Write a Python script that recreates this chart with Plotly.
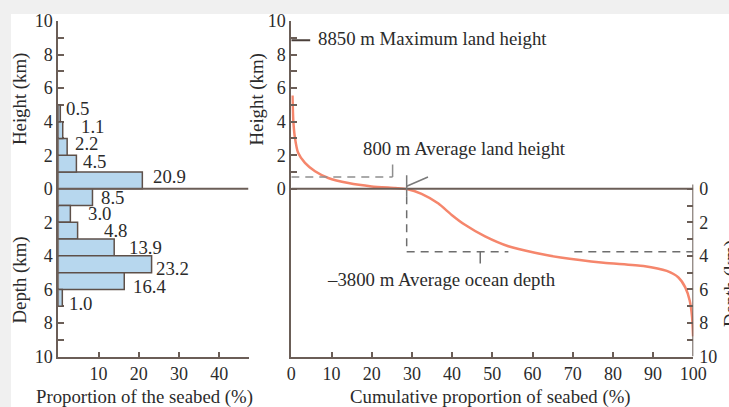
import plotly.graph_objects as go

W, H = 729, 407

# ---- data ----
land_band_start_km = [0, 1, 2, 3, 4]
land_share_pct = [20.9, 4.5, 2.2, 1.1, 0.5]
ocean_band_start_km = [0, 1, 2, 3, 4, 5, 6]
ocean_share_pct = [8.5, 3.0, 4.8, 13.9, 23.2, 16.4, 1.0]

cum_pct = [0.3, 0.5, 0.9, 1.7, 3.4, 5.9, 9.2, 14.2, 20.0, 25.8, 28.7, 32.4, 36.6,
           39.9, 43.2, 48.2, 54.0, 60.6, 67.0, 77.7, 87.6, 93.4, 96.3, 98.0, 99.1,
           99.7, 99.95]
elev_km = [5.56, 4.05, 3.05, 2.14, 1.54, 1.04, 0.64, 0.34, 0.14, 0.04, -0.02, -0.3,
           -0.88, -1.56, -2.15, -2.84, -3.43, -3.82, -4.1, -4.41, -4.6, -4.9, -5.29,
           -5.88, -6.66, -7.65, -8.8]

max_land_km = 8.85
avg_land_km = 0.7
avg_ocean_km = -3.75
sea_level_pct = 28.7

left_x_ticks = [10, 20, 30, 40]
right_x_ticks = [0, 10, 20, 30, 40, 50, 60, 70, 80, 90, 100]
km_ticks = list(range(-10, 11))

# label nudges (px) for the bar value labels, as staggered in the original
land_label_dx = [8.5, 4.5, 6, 16, 4]
land_label_dy = [3.4, 1.7, 3.6, 3.2, 5]
ocean_label_dx = [7, 15.7, 24, 13, 2.6, 6.7, 5]
ocean_label_dy = [0, 0.6, 0, 0, -4, -5.4, -5.6]

AXC = "#6b5e57"
TXT = "#2b2b2b"
FONT = "Liberation Serif"
FS = 18
FA = 18.8


def px_x(p):
    return p / W


def px_y(p):
    return 1 - p / H


fig = go.Figure()

bar_style = dict(color="#b7d7ee", line=dict(color="#5e5049", width=1.5))
land_y = [s + 0.5 for s in land_band_start_km]
ocean_y = [-(s + 0.5) for s in ocean_band_start_km]
fig.add_trace(go.Bar(
    x=land_share_pct, y=land_y, orientation="h", width=1,
    marker=bar_style, xaxis="x", yaxis="y", showlegend=False, hoverinfo="skip"))
fig.add_trace(go.Bar(
    x=ocean_share_pct, y=ocean_y, orientation="h", width=1,
    marker=bar_style, xaxis="x", yaxis="y", showlegend=False, hoverinfo="skip"))

fig.add_trace(go.Scatter(
    x=cum_pct, y=elev_km, mode="lines",
    line=dict(color="#f5866c", width=2.5, shape="spline", smoothing=0.6),
    xaxis="x2", yaxis="y2", showlegend=False, hoverinfo="skip"))
# invisible carrier so the right-hand depth axis is drawn
fig.add_trace(go.Scatter(
    x=cum_pct, y=elev_km, mode="lines", line=dict(color="rgba(0,0,0,0)", width=0),
    xaxis="x2", yaxis="y3", showlegend=False, hoverinfo="skip"))


def km_label(v):
    return str(abs(v)) if v % 2 == 0 else ""


axis_common = dict(showline=True, linecolor=AXC, linewidth=2, showgrid=False, zeroline=False,
                   ticks="inside", tickcolor=AXC, tickwidth=2,
                   tickfont=dict(family=FONT, size=FS, color=TXT), automargin=False)

ydom = [px_y(356.5), px_y(21)]

fig.update_layout(
    width=W, height=H,
    margin=dict(l=0, r=0, t=0, b=0),
    paper_bgcolor="#f0f0f0", plot_bgcolor="white",
    barmode="overlay",
    xaxis=dict(domain=[px_x(58.3), px_x(248.5)], range=[0, 47.3], anchor="y",
               tickvals=left_x_ticks, ticklen=5, **axis_common),
    yaxis=dict(domain=ydom, range=[-10, 10], anchor="x", tickvals=km_ticks,
               ticktext=[km_label(v) for v in km_ticks], ticklen=6, layer="below traces",
               **axis_common),
    xaxis2=dict(domain=[px_x(291.3), px_x(693.3)], range=[0, 100], anchor="y2",
                tickvals=right_x_ticks, ticklen=5, **axis_common),
    yaxis2=dict(domain=ydom, range=[-10, 10], anchor="x2",
                tickvals=[v for v in km_ticks if v >= 0],
                ticktext=[km_label(v) for v in km_ticks if v >= 0], ticklen=6, **axis_common),
    yaxis3=dict(overlaying="y2", anchor="x2", side="right", range=[-10, 10],
                tickvals=[v for v in km_ticks if v <= 0],
                ticktext=[km_label(v) for v in km_ticks if v <= 0], ticklen=6,
                ticklabelstandoff=5,
                **{**axis_common, "showline": False}),
)

shapes = [
    dict(type="rect", xref="paper", yref="paper", x0=px_x(11), x1=1.01, y0=-0.01, y1=px_y(14),
         fillcolor="white", line=dict(width=0), layer="below"),
    dict(type="line", xref="x", yref="y", x0=0, x1=47.3, y0=0, y1=0, line=dict(color=AXC, width=2)),
    dict(type="line", xref="x2", yref="y2", x0=0, x1=100, y0=0, y1=0, line=dict(color=AXC, width=2)),
    dict(type="line", xref="x2", yref="y2", x0=100, x1=100, y0=0.25, y1=-10, line=dict(color=AXC, width=2)),
    dict(type="line", xref="x2", yref="y2", x0=0, x1=4.7, y0=max_land_km, y1=max_land_km,
         line=dict(color="#4a3f3a", width=2)),
    dict(type="line", xref="x2", yref="y2", x0=0, x1=25.2, y0=avg_land_km, y1=avg_land_km,
         line=dict(color="#8e8e8e", width=1.5, dash="8px,6px")),
    dict(type="line", xref="x2", yref="y2", x0=25.2, x1=25.2, y0=avg_land_km, y1=avg_land_km + 0.75,
         line=dict(color="#8e8e8e", width=1.5)),
    dict(type="line", xref="x2", yref="y2", x0=sea_level_pct, x1=sea_level_pct, y0=0.8, y1=-0.45,
         line=dict(color="#7a7a7a", width=1.5)),
    dict(type="line", xref="x2", yref="y2", x0=sea_level_pct, x1=34, y0=0.15, y1=0.7,
         line=dict(color="#7a7a7a", width=1.5)),
    dict(type="line", xref="x2", yref="y2", x0=sea_level_pct, x1=sea_level_pct, y0=-0.45, y1=avg_ocean_km,
         line=dict(color="#6e6e6e", width=1.5, dash="8px,6px")),
    dict(type="line", xref="x2", yref="y2", x0=sea_level_pct, x1=54, y0=avg_ocean_km, y1=avg_ocean_km,
         line=dict(color="#6e6e6e", width=1.5, dash="8px,6px")),
    dict(type="line", xref="x2", yref="y2", x0=70.4, x1=100, y0=avg_ocean_km, y1=avg_ocean_km,
         line=dict(color="#6e6e6e", width=1.5, dash="8px,6px")),
    dict(type="line", xref="x2", yref="y2", x0=47, x1=47, y0=avg_ocean_km, y1=avg_ocean_km - 0.7,
         line=dict(color="#6e6e6e", width=1.5)),
]
fig.update_layout(shapes=shapes)

tf = dict(family=FONT, size=FA, color=TXT)
ann = []
for v, yy, dx, dy in zip(land_share_pct + ocean_share_pct, land_y + ocean_y,
                         land_label_dx + ocean_label_dx, land_label_dy + ocean_label_dy):
    ann.append(dict(xref="x", yref="y", x=v, y=yy, text=f"{v:.1f}", xanchor="left",
                    yanchor="middle", xshift=dx, yshift=dy, showarrow=False, font=tf))
ann += [
    dict(xref="x2", yref="y2", x=6.2, y=8.95, text="8850 m Maximum land height",
         xanchor="left", yanchor="middle", showarrow=False, font=tf),
    dict(xref="x2", yref="y2", x=43, y=2.4, text="800 m Average land height",
         xanchor="center", yanchor="middle", showarrow=False, font=tf),
    dict(xref="x2", yref="y2", x=37.3, y=-5.4, text="\u20133800 m Average ocean depth",
         xanchor="center", yanchor="middle", showarrow=False, font=tf),
    dict(xref="paper", yref="paper", x=px_x(19.5), y=px_y(99.5), text="Height (km)", textangle=-90,
         xanchor="center", yanchor="middle", showarrow=False, font=tf),
    dict(xref="paper", yref="paper", x=px_x(19.5), y=px_y(280), text="Depth (km)", textangle=-90,
         xanchor="center", yanchor="middle", showarrow=False, font=tf),
    dict(xref="paper", yref="paper", x=px_x(256), y=px_y(99.5), text="Height (km)", textangle=-90,
         xanchor="center", yanchor="middle", showarrow=False, font=tf),
    dict(xref="paper", yref="paper", x=px_x(731), y=px_y(283), text="Depth (km)", textangle=-90,
         xanchor="center", yanchor="middle", showarrow=False, font=tf),
    dict(xref="paper", yref="paper", x=px_x(144), y=px_y(397), text="Proportion of the seabed (%)",
         xanchor="center", yanchor="middle", showarrow=False, font=tf),
    dict(xref="paper", yref="paper", x=px_x(490), y=px_y(397), text="Cumulative proportion of seabed (%)",
         xanchor="center", yanchor="middle", showarrow=False, font=tf),
]
fig.update_layout(annotations=ann)

fig.write_html("out.html", config={"displayModeBar": False},
               post_script="document.body.style.margin='0';document.body.style.overflow='hidden';")
